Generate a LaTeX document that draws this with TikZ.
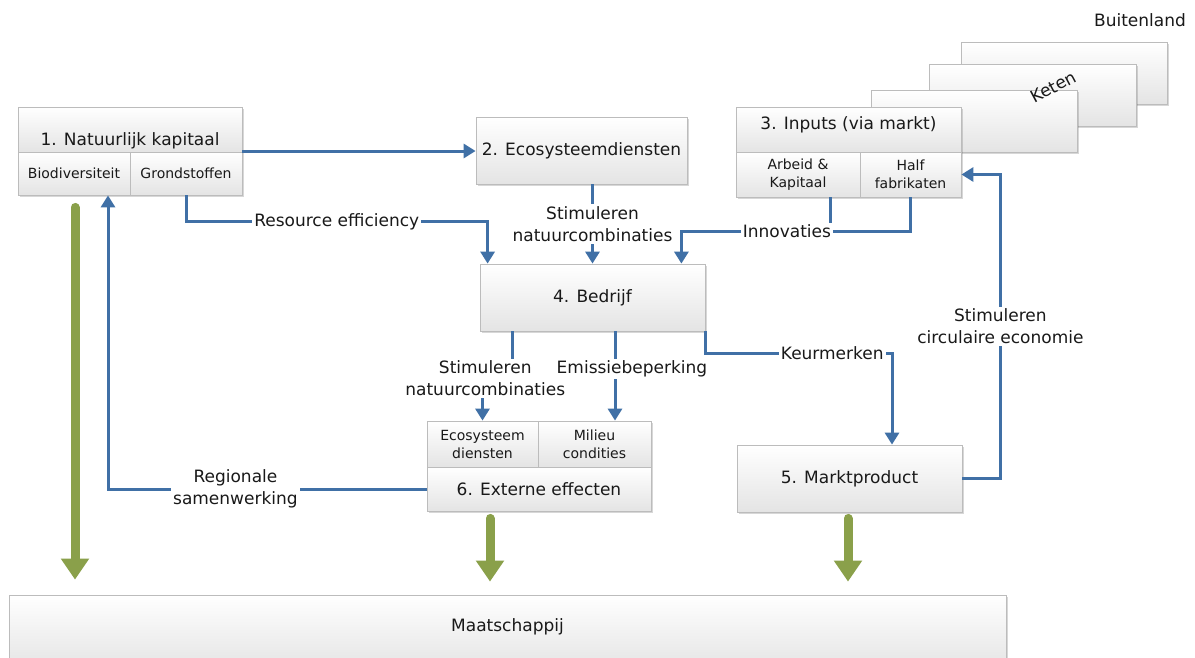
\documentclass[tikz,border=0pt]{standalone}
\usepackage{fontspec}
\setmainfont{DejaVu Sans}
\usetikzlibrary{calc,arrows.meta,shadows}

\definecolor{flowblue}{RGB}{64,112,166}
\definecolor{impactgreen}{RGB}{138,160,74}
\definecolor{boxline}{RGB}{188,188,188}
\definecolor{boxshade}{RGB}{228,228,228}
\definecolor{inktext}{RGB}{25,25,25}

\newcommand{\lblsize}{\fontsize{17}{22}\selectfont}
\newcommand{\cellsize}{\fontsize{14}{18}\selectfont}

\tikzset{
  panel/.style={draw=boxline, line width=0.8pt, top color=white, bottom color=boxshade, inner sep=0pt},
  shadowed/.style={drop shadow={shadow xshift=2pt, shadow yshift=-2pt, opacity=0.22, fill=black!70}},
  txt/.style={font=\lblsize, text=inktext, align=center, inner sep=1pt},
  small/.style={font=\cellsize, text=inktext, align=center, inner sep=0pt},
  lbl/.style={txt, fill=white, inner sep=2pt},
  flow/.style={draw=flowblue, line width=3pt, -{Triangle[length=12pt,width=14pt]}},
  link/.style={draw=flowblue, line width=3pt},
  impact/.style={draw=impactgreen, line width=9pt, line cap=round, -{Triangle[length=21pt,width=27pt]}},
}

\begin{document}
\begin{tikzpicture}[x=1pt,y=-1pt]
\clip (0,0) rectangle (1195,657);
\fill[white] (0,0) rectangle (1195,657);

% --- chain of foreign suppliers ---
\node[txt] (abroad) at (1140,20) {Buitenland};
\node[panel,shadowed,minimum width=206pt,minimum height=62pt] (chainC) at (1064,73) {};
\node[panel,shadowed,minimum width=207pt,minimum height=62pt] (chainB) at (1032.5,95) {};
\node[panel,shadowed,minimum width=206pt,minimum height=62pt] (chainA) at (974,121) {};
\node[txt,rotate=28,inner sep=0pt] (chain) at (1053,87) {Keten};

% --- 3. inputs ---
\node[panel,shadowed,minimum width=225pt,minimum height=90pt] (n3) at (848.5,152) {};
\node[panel,minimum width=225pt,minimum height=45pt] (n3top) at (848.5,129.5) {};
\node[txt] (n3lbl) at (848.5,125) {3. Inputs (via markt)};
\node[panel,small,minimum width=124pt,minimum height=45pt] (arbeid) at (798,174.5) {Arbeid \&\\Kapitaal};
\node[panel,small,minimum width=101pt,minimum height=45pt] (half) at (910.5,174.5) {Half\\fabrikaten};

% --- 1. natural capital ---
\node[panel,shadowed,minimum width=224pt,minimum height=88pt] (n1) at (130,151) {};
\node[panel,minimum width=224pt,minimum height=45pt] (n1top) at (130,129.5) {};
\node[txt] (n1lbl) at (130,141) {1. Natuurlijk kapitaal};
\node[panel,small,minimum width=112pt,minimum height=43pt] (bio) at (74,173.5) {Biodiversiteit};
\node[panel,small,minimum width=112pt,minimum height=43pt] (grond) at (186,173.5) {Grondstoffen};

% --- 2. ecosystem services ---
\node[panel,shadowed,txt,minimum width=211pt,minimum height=67pt] (n2) at (581.5,150.5) {2. Ecosysteemdiensten};

% --- 4. company ---
\node[panel,shadowed,txt,minimum width=225pt,minimum height=67pt] (n4) at (592.5,297.5) {4. Bedrijf};

% --- 5. market product ---
\node[panel,shadowed,txt,minimum width=225pt,minimum height=67pt] (n5) at (849.5,478.5) {5. Marktproduct};

% --- 6. external effects ---
\node[panel,shadowed,minimum width=224pt,minimum height=90pt] (n6) at (539,466) {};
\node[panel,small,minimum width=111pt,minimum height=46pt] (eco) at (482.5,444) {Ecosysteem\\diensten};
\node[panel,small,minimum width=113pt,minimum height=46pt] (milieu) at (594.5,444) {Milieu\\condities};
\node[panel,txt,minimum width=224pt,minimum height=44pt] (ext) at (539,489) {6. Externe effecten};

% --- society ---
\node[panel,shadowed,minimum width=997pt,minimum height=75pt] (maat) at (507.5,632.5) {};
\node[txt] (maatlbl) at (507.5,627) {Maatschappij};

% --- flows between the parts ---
\draw[flow] (n1.east) -- (n1.east -| n2.west);
\draw[flow] (grond.south) -- ++(0,26) -| node[lbl,pos=0.25]{Resource efficiency} ([xshift=8pt]n4.north west);
\draw[flow] (n4.north |- n2.south) -- node[lbl]{Stimuleren\\natuurcombinaties} (n4.north);

\coordinate (innojoin) at ($(arbeid.south)+(32,34)$);
\draw[link] (half.south) |- (innojoin);
\draw[flow] ([xshift=32pt]arbeid.south) -- (innojoin) -| node[lbl,pos=0.145]{Innovaties} ([xshift=-24pt]n4.north east);

\draw[flow] ([xshift=-80.5pt]n4.south) -- ++(0,47) -| node[lbl,pos=0.25,xshift=-12pt]{Stimuleren\\natuurcombinaties} (eco.north);
\draw[flow] ([xshift=22.5pt]n4.south) -- node[lbl,pos=0.42,xshift=17pt]{Emissiebeperking} ([xshift=22.5pt]n4.south |- milieu.north);
\draw[flow] (n4.south east) -- ++(0,22) -| node[lbl,pos=0.34]{Keurmerken} ([xshift=42.5pt]n5.north);
\draw[flow] (n5.east) -- ++(38,0) |- node[lbl,pos=0.25]{Stimuleren\\circulaire economie} (half.east);
\draw[flow] (ext.west) -| node[lbl,pos=0.3]{Regionale\\samenwerking} ([xshift=34pt]bio.south);

% --- effects on society ---
\draw[impact] ($(bio.south)+(1,12)$) -- ($(bio.south |- maat.north)+(1,-15)$);
\draw[impact] ($(ext.south)+(-49,7)$) -- ($(ext.south |- maat.north)+(-49,-13)$);
\draw[impact] ($(n5.south)+(-1.5,6)$) -- ($(n5.south |- maat.north)+(-1.5,-13)$);
\end{tikzpicture}
\end{document}
